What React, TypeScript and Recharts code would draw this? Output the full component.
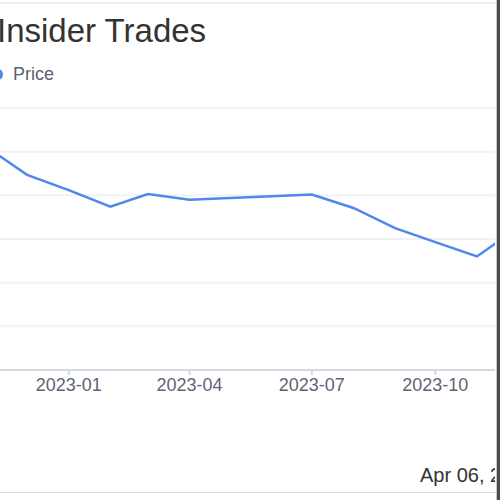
import { LineChart, Line, XAxis, YAxis, CartesianGrid } from "recharts";

// monthly closing price
const months = [
  "2022-11-01", "2022-12-01", "2023-01-01", "2023-02-01", "2023-03-01", "2023-04-01", "2023-05-01",
  "2023-06-01", "2023-07-01", "2023-08-01", "2023-09-01", "2023-10-01", "2023-11-01", "2023-12-01",
];
const prices = [51.0, 44.7, 41.2, 37.4, 40.3, 39.0, 39.4, 39.8, 40.2, 37.1, 32.5, 29.3, 26.0, 32.5];
const tickDates = ["2023-01-01", "2023-04-01", "2023-07-01", "2023-10-01"];
const yTicks = [0, 10, 20, 30, 40, 50, 60];
const xDomain = ["2022-10-15", "2023-12-15"];

const FONT = "'Liberation Sans', Arial, sans-serif";
const BLUE = "#4f87ec";

const fmtMonth = (t: number) => {
  const d = new Date(t);
  return `${d.getUTCFullYear()}-${String(d.getUTCMonth() + 1).padStart(2, "0")}`;
};

export default function App() {
  const data = months.map((m, i) => ({ t: Date.parse(m), price: prices[i] }));

  return (
    <div
      style={{
        position: "absolute",
        top: 0,
        left: 0,
        width: 500,
        height: 500,
        overflow: "hidden",
        background: "#fff",
        fontFamily: FONT,
      }}
    >
      {/* card edges */}
      <div style={{ position: "absolute", top: 2, left: 0, width: 497, height: 2, background: "#ececf1" }} />
      <div style={{ position: "absolute", top: 492, left: 0, width: 497, height: 1, background: "#dcdce0" }} />
      <div style={{ position: "absolute", top: 0, left: 496, width: 1, height: 500, background: "#c8c8c8" }} />
      <div style={{ position: "absolute", top: 0, left: 497, width: 3, height: 500, background: "#4a4a4a" }} />

      <div style={{ position: "absolute", top: 0, left: 0, width: 495, height: 492, overflow: "hidden" }}>
        <div
          style={{
            position: "absolute",
            left: -3,
            top: 13,
            fontSize: 33,
            lineHeight: "36px",
            color: "#333",
            whiteSpace: "nowrap",
          }}
        >
          Insider Trades
        </div>

        <div style={{ position: "absolute", left: -8, top: 69, width: 11, height: 11, borderRadius: "50%", background: BLUE }} />
        <div style={{ position: "absolute", left: 13, top: 63, fontSize: 18, lineHeight: "22px", color: "#5a5f72" }}>
          Price
        </div>

        <div style={{ position: "absolute", left: -136.45, top: 0 }}>
          <LineChart width={692.1} height={400} data={data} margin={{ top: 108, right: 20, bottom: 0, left: 100 }}>
            <CartesianGrid vertical={false} stroke="#f2f2f4" strokeWidth={2} />
            <YAxis hide domain={[0, 60]} ticks={yTicks} />
            <XAxis
              dataKey="t"
              type="number"
              domain={xDomain.map((d) => Date.parse(d))}
              ticks={tickDates.map((d) => Date.parse(d))}
              tickFormatter={fmtMonth}
              height={30}
              stroke="#d6d9e2"
              strokeWidth={2}
              tickSize={5}
              tickMargin={3}
              tick={{ fill: "#5f6475", fontSize: 18, fontFamily: FONT }}
            />
            <Line
              type="linear"
              dataKey="price"
              stroke={BLUE}
              strokeWidth={2.5}
              dot={false}
              isAnimationActive={false}
            />
          </LineChart>
        </div>

        <div style={{ position: "absolute", left: 420, top: 463, fontSize: 20, lineHeight: "24px", color: "#333", whiteSpace: "nowrap" }}>
          Apr 06, 2024
        </div>
      </div>
    </div>
  );
}
